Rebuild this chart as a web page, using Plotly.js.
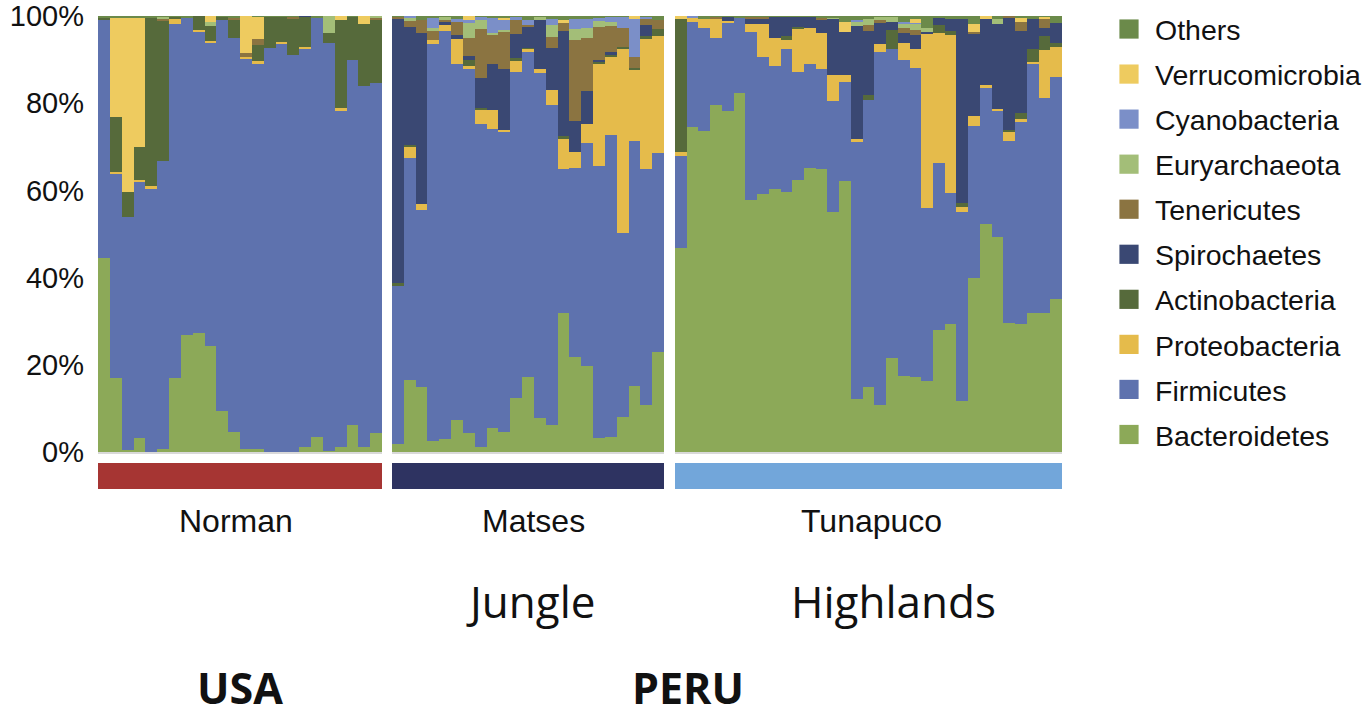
<!DOCTYPE html>
<html>
<head>
<meta charset="utf-8">
<script src="https://cdn.plot.ly/plotly-3.0.1.min.js"></script>
<style>
  html, body { margin: 0; padding: 0; background: #ffffff; }
  #chart { width: 1368px; height: 717px; }
  /* larger legend swatches than Plotly's default 12px bar square */
  #chart g.legendpoints path { transform: translate(24px, 0px) scale(1.6); }
</style>
</head>
<body>
<div id="chart"></div>
<script>
// Phylum-level relative abundance (%) per stool sample, three populations.
const taxa = ['Bacteroidetes', 'Firmicutes', 'Proteobacteria', 'Actinobacteria', 'Spirochaetes',
              'Tenericutes', 'Euryarchaeota', 'Cyanobacteria', 'Verrucomicrobia', 'Others'];
const taxaColors = ['#8ca958', '#5e72ae', '#e5bb4b', '#566a3b', '#3a4873',
                    '#8b7441', '#a3be78', '#7b8fc8', '#eecb5f', '#6b8a4a'];

const sites = ['Norman', 'Matses', 'Tunapuco'];
const siteColors = ['#a63533', '#2e3361', '#72a6da'];

// Norman (USA), 24 samples
const normanBacteroidetes = [44.4,16.9,0.5,3.1,0,0.8,16.9,26.8,27.2,24.4,9.3,4.7,0.7,0.7,0,0,0,1.2,3.5,0.2,1.2,6.3,1.2,4.3];
const normanFirmicutes = [54.6,47.0,53.5,58.9,60.5,65.9,81.2,72.7,69.2,69.6,89.7,90.3,89.6,88.4,92.7,93.7,91.0,91.2,96.0,93.5,77.2,83.6,82.8,80.3];
const normanProteobacteria = [0,0.4,0,0.4,0.4,0,1.4,0,0.4,0.3,0,0,0.4,0.5,0,0.4,0,0.5,0,0,0.4,0,0,0];
const normanActinobacteria = [0.7,12.6,5.7,7.6,38.6,32.3,0.4,0,3.2,3.3,0.8,4.2,0,3.8,7.1,5.7,8.4,6.9,0,2.5,20.3,9.9,14.1,14.5];
const normanSpirochaetes = [0,0,0,0,0,0,0,0,0,0,0,0,0,0,0,0,0,0.2,0,0,0,0,0,0];
const normanTenericutes = [0,0,0,0,0,0.3,0,0,0,0,0,0.3,0.8,1.4,0,0,0.4,0,0,0,0,0,0,0.4];
const normanEuryarchaeota = [0,0,0,0,0,0.5,0,0,0,1.1,0,0,0,0,0,0,0,0,0,3.8,0,0,0,0.5];
const normanCyanobacteria = [0,0,0,0,0,0,0,0,0,0,0,0,0,0,0,0,0,0,0,0,0,0,0,0];
const normanVerrucomicrobia = [0,22.6,39.8,29.6,0,0,0,0,0,1.3,0,0,8.5,5.1,0,0,0,0,0,0,0.9,0,1.9,0];
const normanOthers = [0.3,0.5,0.5,0.4,0.5,0.2,0.1,0.5,0,0,0.2,0.5,0,0.1,0.2,0.2,0.2,0,0.5,0,0,0.2,0,0];

// Matses (Peru, jungle), 23 samples
const matsesBacteroidetes = [1.8,16.5,14.8,2.5,2.9,7.3,4.3,1.2,5.6,4.7,12.3,17.3,7.7,6.3,31.8,21.9,19.8,3.3,3.5,8.1,15.2,10.8,22.9];
const matsesFirmicutes = [36.5,50.9,40.7,91.0,93.7,81.8,83.5,74.0,68.5,68.6,74.8,74.4,79.2,73.4,33.1,43.3,51.0,62.4,69.2,42.1,56.1,54.1,45.6];
const matsesProteobacteria = [0,2.7,1.3,1.0,1.4,5.7,0.8,3.3,4.4,0.5,2.8,0.8,1.0,3.3,7.0,3.7,4.4,23.2,18.0,42.3,16.3,30.0,26.8];
const matsesActinobacteria = [0.4,0.4,0,0,0,0,1.3,0.5,0,0,0.4,0.2,0,0,0.6,0,0,0.6,0.4,0.5,0.5,0.4,1.8];
const matsesSpirochaetes = [60.8,26.9,39.2,0,0.6,0.9,1.0,6.7,10.5,14.0,5.5,4.7,11.2,9.7,24.0,7.0,7.6,0.4,0.6,0,0,2.7,0];
const matsesTenericutes = [0.4,1.4,3.0,2.0,0.5,2.9,4.0,11.3,6.7,8.6,3.3,0.6,0,2.5,1.8,18.6,12.2,7.6,5.9,4.2,2.5,1.4,2.0];
const matsesEuryarchaeota = [0,0.8,0,0.8,0.8,0,3.4,2.0,0.4,0.4,0,0,0.8,2.8,0,2.5,2.3,1.3,1.1,0,0,0,0];
const matsesCyanobacteria = [0,0.4,0,2.3,0,0.8,0.8,0.8,3.4,2.3,0.8,1.1,0,1.4,0,2.4,2.1,0.8,1.1,2.7,8.8,0.4,0];
const matsesVerrucomicrobia = [0,0,0,0,0,0,0.9,0,0,0.5,0,0,0,0,0.8,0,0,0,0,0,0.6,0,0];
const matsesOthers = [0.1,0,1.0,0.4,0.1,0.6,0,0.2,0.5,0.4,0.1,0.9,0.1,0.6,0.9,0.6,0.6,0.4,0.2,0.1,0,0.2,0.9];

// Tunapuco (Peru, highlands), 33 samples
const tunapucoBacteroidetes = [46.9,74.6,73.6,79.7,78.2,82.3,57.8,59.1,60.3,59.6,62.4,65.2,64.9,55.0,62.2,12.2,14.8,10.8,21.6,17.5,17.3,16.3,28.0,29.3,11.7,39.8,52.4,49.4,29.7,29.3,31.8,31.8,35.2];
const tunapucoFirmicutes = [21.1,24.1,23.7,15.2,20.3,17.2,38.6,31.6,28.2,32.8,24.7,23.7,22.9,25.4,22.7,58.8,65.9,80.9,70.8,72.4,70.8,39.6,38.4,30.0,43.4,35.0,31.2,28.7,41.6,46.3,57.1,49.3,50.9];
const tunapucoProteobacteria = [0.8,1.0,2.1,4.6,0.3,0,1.7,7.4,6.5,2.1,9.9,8.4,8.4,6.0,1.5,0.8,0,1.8,0,3.8,4.4,39.9,29.8,36.3,1.1,2.3,0.6,0.6,2.0,0.8,0.5,11.1,6.7];
const tunapucoActinobacteria = [30.6,0,0,0,0,0,0,0,0,1.0,0.5,0,0,0,0,0,1.1,0,4.4,0,0,0,1.7,0.9,0.8,0,0,0,0.5,1.3,3.1,3.3,1.0];
const tunapucoSpirochaetes = [0,0,0,0,1.0,0,1.4,1.4,4.8,4.4,2.3,2.5,2.8,13.0,9.9,25.8,14.7,5.0,1.9,2.5,3.2,0.6,1.7,2.9,42.4,18.7,15.1,19.4,25.8,18.9,6.7,1.7,4.6];
const tunapucoTenericutes = [0,0,0,0.3,0,0,0.3,0.3,0,0,0,0,0.5,0,0,0,1.4,0.5,0,1.1,1.2,0,0,0,0,0.5,0,0,0.4,2.0,0,2.3,0];
const tunapucoEuryarchaeota = [0,0,0,0,0,0,0,0,0,0,0,0,0,0.3,0,1.0,1.4,0.8,1.1,1.0,1.3,0.8,0,0,0,0,0,1.2,0,0,0,0,0];
const tunapucoCyanobacteria = [0,0.3,0,0,0,0,0,0,0,0,0,0,0,0,0,0.5,0,0,0,0.4,0.3,0,0,0,0,0,0,0,0,0,0,0,0];
const tunapucoVerrucomicrobia = [0.6,0,0,0,0,0,0,0,0,0,0,0,0,0,2.4,0,0,0,0,0,0.8,0,0,0,0,1.8,0.7,0,0,0.9,0,0.4,0];
const tunapucoOthers = [0,0,0.6,0.2,0.2,0.5,0.2,0.2,0.2,0.1,0.2,0.2,0.5,0.3,1.3,0.9,0.7,0.2,0.2,1.3,0.7,2.8,0.4,0.6,0.6,1.9,0,0.7,0,0.5,0.8,0.1,1.6];

const yTicks = [0, 20, 40, 60, 80, 100];
const regionLabels = ['Jungle', 'Highlands'];
const countryLabels = ['USA', 'PERU'];

const siteSeries = [
  [normanBacteroidetes, normanFirmicutes, normanProteobacteria, normanActinobacteria, normanSpirochaetes,
   normanTenericutes, normanEuryarchaeota, normanCyanobacteria, normanVerrucomicrobia, normanOthers],
  [matsesBacteroidetes, matsesFirmicutes, matsesProteobacteria, matsesActinobacteria, matsesSpirochaetes,
   matsesTenericutes, matsesEuryarchaeota, matsesCyanobacteria, matsesVerrucomicrobia, matsesOthers],
  [tunapucoBacteroidetes, tunapucoFirmicutes, tunapucoProteobacteria, tunapucoActinobacteria, tunapucoSpirochaetes,
   tunapucoTenericutes, tunapucoEuryarchaeota, tunapucoCyanobacteria, tunapucoVerrucomicrobia, tunapucoOthers]
];

// Page geometry in pixels
const W = 1368, H = 717;
const plotTop = 16, plotBottom = 452;
const panelX = [[98, 382], [392, 664], [675, 1062]];
const px = v => v / W;
const py = v => 1 - v / H;

const traces = [];
siteSeries.forEach((series, s) => {
  const n = series[0].length;
  const ids = Array.from({length: n}, (_, i) => sites[s].charAt(0) + String(i + 1).padStart(2, '0'));
  series.forEach((vals, t) => {
    traces.push({
      type: 'bar',
      x: ids,
      y: vals,
      name: taxa[t],
      legendgroup: taxa[t],
      legendrank: taxa.length - t,   // top of the stack listed first
      showlegend: s === 0,
      xaxis: s === 0 ? 'x' : 'x' + (s + 1),
      yaxis: 'y',
      marker: { color: taxaColors[t], line: { width: 0 } },
      hovertemplate: '%{x}<br>' + taxa[t] + ': %{y:.1f}%<extra></extra>'
    });
  });
});

const baseFont = 'Liberation Sans, Arial, Helvetica, sans-serif';
const labelFont = 'Open Sans, Noto Sans, sans-serif';

const xAxisBase = {
  showticklabels: false, ticks: '', showgrid: false, zeroline: false,
  showline: true, linecolor: '#d9d9d9', linewidth: 2,
  fixedrange: true, automargin: false
};

const layout = {
  width: W, height: H,
  margin: { l: 0, r: 0, t: 0, b: 0 },
  paper_bgcolor: '#ffffff', plot_bgcolor: '#ffffff',
  barmode: 'stack', bargap: 0,
  showlegend: true,
  font: { family: baseFont, color: '#111111' },
  xaxis: Object.assign({}, xAxisBase, { domain: [px(panelX[0][0]), px(panelX[0][1])], anchor: 'y' }),
  xaxis2: Object.assign({}, xAxisBase, { domain: [px(panelX[1][0]), px(panelX[1][1])], anchor: 'y' }),
  xaxis3: Object.assign({}, xAxisBase, { domain: [px(panelX[2][0]), px(panelX[2][1])], anchor: 'y' }),
  yaxis: {
    domain: [py(plotBottom), py(plotTop)],
    range: [0, 100],
    tickvals: yTicks,
    ticktext: yTicks.map(v => v + '%'),
    ticks: '', showgrid: false, zeroline: false, showline: false,
    ticklabelstandoff: 13,
    tickfont: { family: baseFont, size: 29, color: '#111111' },
    fixedrange: true, automargin: false
  },
  legend: {
    x: px(1105), y: py(4), xanchor: 'left', yanchor: 'top',
    traceorder: 'grouped',
    tracegroupgap: 5,
    itemwidth: 40,
    font: { family: baseFont, size: 28.5, color: '#111111' },
    bgcolor: 'rgba(0,0,0,0)'
  },
  shapes: sites.map((s, i) => ({
    type: 'rect', xref: 'paper', yref: 'paper',
    x0: px(panelX[i][0]), x1: px(panelX[i][1]),
    y0: py(489), y1: py(463),
    fillcolor: siteColors[i], line: { width: 0 }
  })),
  annotations: [
    ...sites.map((s, i) => ({
      text: s, xref: 'paper', yref: 'paper',
      x: px([236, 533, 871][i]), y: py(521), xanchor: 'center', yanchor: 'middle',
      showarrow: false, font: { family: baseFont, size: 32, color: '#111111' }
    })),
    ...regionLabels.map((r, i) => ({
      text: r, xref: 'paper', yref: 'paper',
      x: px([531, 893][i]), y: py(601), xanchor: 'center', yanchor: 'middle',
      showarrow: false, font: { family: labelFont, size: 44, color: '#111111' }
    })),
    ...countryLabels.map((c, i) => ({
      text: '<b>' + c + '</b>', xref: 'paper', yref: 'paper',
      x: px([240, 688][i]), y: py(719), xanchor: 'center', yanchor: 'bottom',
      showarrow: false, font: { family: labelFont, size: 43, color: '#111111' }
    }))
  ]
};

Plotly.newPlot('chart', traces, layout, { displayModeBar: false });
</script>
</body>
</html>
